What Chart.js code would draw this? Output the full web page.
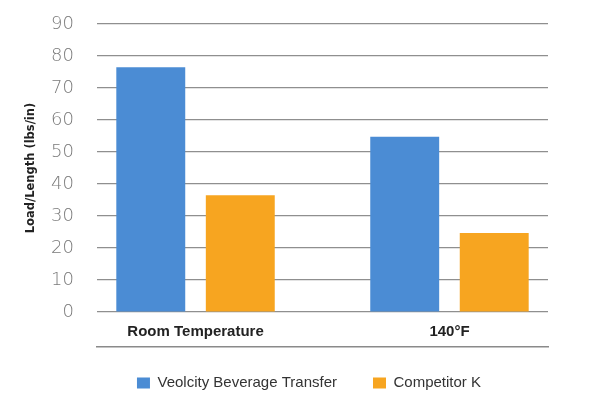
<!DOCTYPE html>
<html>
<head>
<meta charset="utf-8">
<script src="https://cdn.jsdelivr.net/npm/chart.js@4"></script>
<style>
html,body{margin:0;padding:0;background:#fff;}
#wrap{width:604px;height:401px;position:relative;}
</style>
</head>
<body>
<div id="wrap"><canvas id="c"></canvas></div>
<script>
const categories = ["Room Temperature", "140°F"];
const seriesNames = ["Veolcity Beverage Transfer", "Competitor K"];
const velocityValues = [76.5, 54.8];
const competitorValues = [36.5, 24.7];
const yTicks = [0, 10, 20, 30, 40, 50, 60, 70, 80, 90];

const toPoints = arr => arr.map((v, i) => ({x: i, y: v}));

new Chart(document.getElementById('c'), {
  type: 'bar',
  data: {
    datasets: [
      {label: seriesNames[0], data: toPoints(velocityValues), backgroundColor: '#4b8cd4'},
      {label: seriesNames[1], data: toPoints(competitorValues), backgroundColor: '#f7a520'}
    ]
  },
  options: {
    responsive: true,
    maintainAspectRatio: false,
    animation: false,
    categoryPercentage: 0.705,
    barPercentage: 0.77,
    layout: {autoPadding: false, padding: {left: 24, right: 10, top: 24, bottom: 0.5}},
    plugins: {
      tooltip: {enabled: false},
      legend: {
        position: 'bottom',
        labels: {
          boxWidth: 13, boxHeight: 11, padding: 36,
          color: '#333',
          font: {family: 'Liberation Sans', size: 15}
        }
      }
    },
    scales: {
      x: {
        type: 'linear',
        position: 'bottom',
        offset: false,
        bounds: 'data',
        min: -0.388, max: 1.388,
        afterBuildTicks: s => { s.ticks = categories.map((c, i) => ({value: i})); },
        afterFit: s => { s.height = 27.5; },
        grid: {display: false, drawTicks: false, offset: false},
        border: {display: false},
        ticks: {
          autoSkip: false, maxRotation: 0, padding: 11,
          color: '#222',
          font: {family: 'Liberation Sans', size: 15, weight: 'bold'},
          callback: v => categories[v]
        }
      },
      x2: {
        type: 'linear',
        position: {y: -11},
        display: true,
        offset: false,
        min: -0.388, max: 1.388,
        grid: {display: false, drawTicks: false},
        border: {display: true, color: '#8a8a8a', width: 1.5},
        ticks: {display: false}
      },
      y: {
        min: 0, max: 90,
        afterBuildTicks: s => { s.ticks = yTicks.map(v => ({value: v})); },
        afterFit: s => { s.width = 73; },
        grid: {color: '#8f8f8f', lineWidth: 1.2, drawTicks: true, tickLength: 21, tickColor: 'rgba(0,0,0,0)'},
        border: {display: false},
        ticks: {
          padding: 2, color: '#7a7a7a',
          font: {family: 'DejaVu Sans', size: 18, weight: '200'}
        },
        title: {
          display: true, text: 'Load/Length (lbs/in)',
          color: '#222', padding: 0,
          font: {family: 'DejaVu Sans', size: 11.5, weight: 'bold'}
        }
      },
      y2: {
        type: 'linear',
        position: 'right',
        display: true,
        afterFit: s => { s.width = 46; },
        grid: {display: false, drawTicks: false},
        border: {display: false},
        ticks: {display: false}
      }
    }
  }
});
</script>
</body>
</html>
